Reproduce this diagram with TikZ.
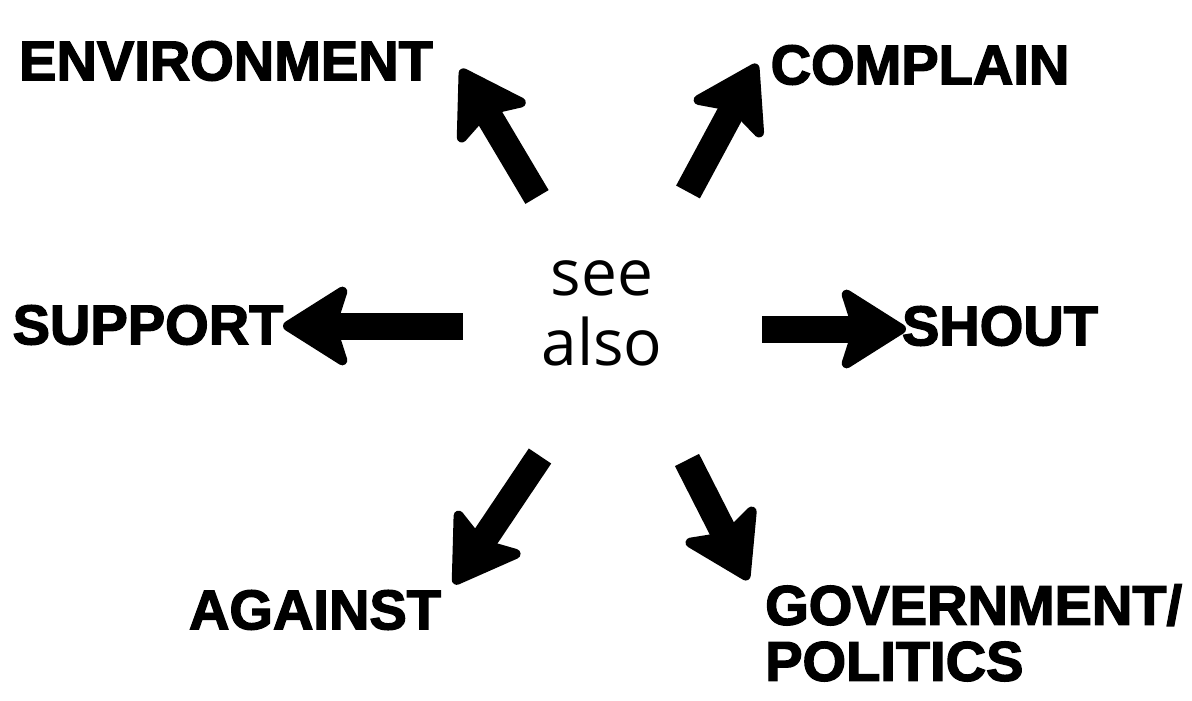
\documentclass[tikz,border=0pt]{standalone}
\usepackage{fontspec}
\setmainfont{Open Sans}
\newfontfamily\heavy{Liberation Sans}[BoldFeatures={FakeBold=2.5}]
\usetikzlibrary{arrows.meta}
\begin{document}
\begin{tikzpicture}[x=1pt,y=-1pt,
  lbl/.style={font=\heavy\bfseries\fontsize{56}{60}\selectfont, inner sep=0pt},
  mid/.style={font=\fontsize{64}{70}\selectfont, align=center, inner sep=0pt},
  bigarrow/.style={line width=27pt, -{Stealth[length=72pt,width=90pt,inset=14pt,line width=10pt,round]}}]
\useasboundingbox[fill=white] (0,0) rectangle (1192,701);
% labels
\node[lbl] (env) at (226,61) {ENVIRONMENT};
\node[lbl] (com) at (920,65) {COMPLAIN};
\node[lbl] (sup) at (148,325) {SUPPORT};
\node[lbl] (sho) at (1000,326) {SHOUT};
\node[lbl] (aga) at (315,610) {AGAINST};
\node[lbl, align=left, anchor=north west, font=\heavy\bfseries\fontsize{56}{56}\selectfont] (gov) at (765,584) {GOVERNMENT/\\POLITICS};
\node[mid] (see) at (602,313) {see\\also};
% arrow ends
\coordinate (t1) at (537,197); \coordinate (h1) at (461,69);
\coordinate (t2) at (688,192); \coordinate (h2) at (757,64);
\coordinate (t3) at (463,326); \coordinate (h3) at (283,326);
\coordinate (t4) at (762,329); \coordinate (h4) at (906,329);
\coordinate (t5) at (540,456); \coordinate (h5) at (454,584);
\coordinate (t6) at (687,460); \coordinate (h6) at (748,580);
\draw[bigarrow] (t1) -- (h1);
\draw[bigarrow] (t2) -- (h2);
\draw[bigarrow] (t3) -- (h3);
\draw[bigarrow] (t4) -- (h4);
\draw[bigarrow] (t5) -- (h5);
\draw[bigarrow] (t6) -- (h6);
\end{tikzpicture}
\end{document}
